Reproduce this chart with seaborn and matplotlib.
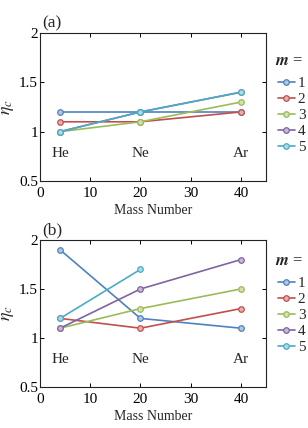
import numpy as np
import pandas as pd
import seaborn as sns
import matplotlib
matplotlib.use("Agg")
import matplotlib.pyplot as plt
from matplotlib.colors import to_rgb

# ---- data ----
mass = [4, 20, 40]
elements = ["He", "Ne", "Ar"]
m_labels = ["1", "2", "3", "4", "5"]

eta_a = {
    "1": [1.2, 1.2, 1.2],
    "2": [1.1, 1.1, 1.2],
    "3": [1.0, 1.1, 1.3],
    "4": [1.0, 1.2, 1.4],
    "5": [1.0, 1.2, 1.4],
}
eta_b = {
    "1": [1.9, 1.2, 1.1],
    "2": [1.2, 1.1, 1.3],
    "3": [1.1, 1.3, 1.5],
    "4": [1.1, 1.5, 1.8],
    "5": [1.2, 1.7, None],
}

colors = ["#4F81BD", "#C0504D", "#9BBB59", "#8064A2", "#4BACC6"]


def to_long(d):
    rows = []
    for m in m_labels:
        for x, v in zip(mass, d[m]):
            if v is not None:
                rows.append({"mass": x, "eta": v, "m": m})
    return pd.DataFrame(rows)


sns.set_theme(style="white")
plt.rcParams["font.family"] = ["Liberation Serif", "DejaVu Serif"]
plt.rcParams["mathtext.fontset"] = "stix"

fig = plt.figure(figsize=(3.08, 4.28), dpi=100)
ax_a = fig.add_axes([40 / 308, 1 - 181 / 428, 226 / 308, 148 / 428])
ax_b = fig.add_axes([40 / 308, 1 - 387 / 428, 226 / 308, 147 / 428])

pal = dict(zip(m_labels, colors))


def lighten(c, f=0.55):
    r, g, b = to_rgb(c)
    return (r + (1 - r) * f, g + (1 - g) * f, b + (1 - b) * f)


panels = [
    (ax_a, eta_a, "(a)", 0.81, 0.705),
    (ax_b, eta_b, "(b)", 0.855, 0.75),
]

for ax, d, tag, title_y, leg_y in panels:
    df = to_long(d)
    sns.lineplot(data=df, x="mass", y="eta", hue="m", hue_order=m_labels,
                 palette=pal, marker="o", markersize=4, linewidth=1.2,
                 markeredgewidth=0.9, ax=ax, legend=True, sort=True,
                 errorbar=None)
    for line in ax.lines:
        line.set_markerfacecolor(lighten(line.get_color()))
        line.set_markeredgecolor(line.get_color())
    ax.set_xlim(0, 45)
    ax.set_ylim(0.5, 2)
    ax.set_xticks([0, 10, 20, 30, 40])
    ax.set_yticks([0.5, 1, 1.5, 2])
    ax.set_yticklabels(["0.5", "1", "1.5", "2"])
    ax.tick_params(direction="in", length=3, width=0.7, labelsize=11,
                   top=True, right=True, bottom=True, left=True, pad=1.5,
                   colors="black")
    ax.tick_params(axis="x", pad=4.5)
    for s in ax.spines.values():
        s.set_visible(True)
        s.set_color("#222222")
        s.set_linewidth(0.8)
    ax.set_xlabel("Mass Number", fontsize=10, labelpad=3)
    ax.set_ylabel(r"$\eta_c$", fontsize=13, labelpad=2)
    for x, el in zip(mass, elements):
        ax.text(x, 0.78, el, ha="center", va="center", fontsize=11)
    ax.text(0.01, 1.01, tag, transform=ax.transAxes, ha="left", va="bottom",
            fontsize=12.5)
    ax.text(1.04, title_y, r"$\boldsymbol{m}$ =", transform=ax.transAxes,
            ha="left", va="center", fontsize=12)
    h, l = ax.get_legend_handles_labels()
    ax.legend(h, l, loc="upper left",
              bbox_to_anchor=(1.053, leg_y), frameon=False, fontsize=11,
              handlelength=1.1, handletextpad=0.2,
              labelspacing=0.15, borderaxespad=0, borderpad=0.0)

fig.savefig("out.png", dpi=100)
